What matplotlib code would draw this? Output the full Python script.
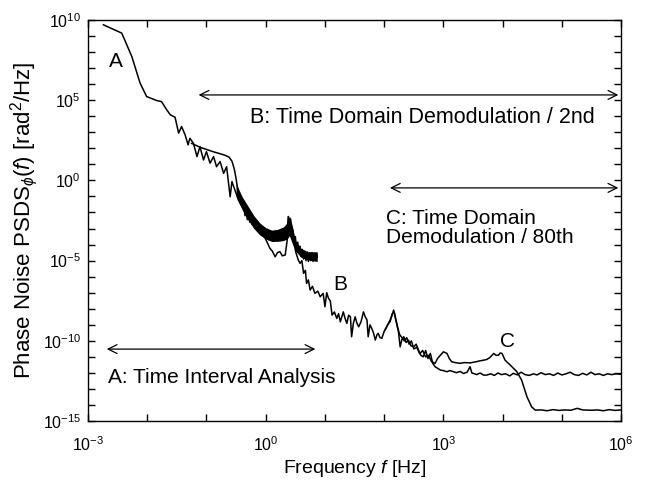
import numpy as np
import matplotlib
matplotlib.use("Agg")
import matplotlib.pyplot as plt
from matplotlib.ticker import FixedLocator, FuncFormatter, NullLocator

plt.rcParams['font.family'] = ['Liberation Sans', 'DejaVu Sans']
plt.rcParams['mathtext.fontset'] = 'custom'
plt.rcParams['mathtext.rm'] = 'Liberation Sans'
plt.rcParams['mathtext.it'] = 'Liberation Sans:italic'

# log10 of frequency [Hz] and log10 of PSD [rad^2/Hz]
a_logf = [-2.74, -2.43, -2.26, -2.12, -2.01, -1.84, -1.76, -1.67, -1.61, -1.53,
          -1.47, -1.42, -1.36, -1.31, -1.28, -1.22, -1.16, -1.11, -1.05, -1.00,
          -0.94, -0.88, -0.83, -0.77, -0.71, -0.66, -0.60, -0.57, -0.52, -0.46,
          -0.40, -0.37, -0.35, -0.33, -0.31, -0.29, -0.27, -0.25, -0.23, -0.21,
          -0.19, -0.17, -0.15, -0.13, -0.11, -0.09, -0.07, -0.05, -0.03, -0.01,
          0.01, 0.03, 0.05, 0.07, 0.09, 0.11, 0.13, 0.15, 0.17, 0.19,
          0.21, 0.23, 0.25, 0.27, 0.29, 0.31, 0.33, 0.35, 0.36, 0.38,
          0.40, 0.42, 0.44, 0.46, 0.48, 0.50, 0.52, 0.54, 0.56, 0.58,
          0.60, 0.62, 0.64, 0.66, 0.68, 0.70, 0.72, 0.74, 0.76, 0.78,
          0.80, 0.82, 0.84, 0.86, 0.87]
a_logs = [9.69, 9.17, 7.71, 6.05, 5.22, 4.97, 4.91, 4.39, 4.08, 3.93,
          2.94, 3.35, 2.83, 2.21, 2.62, 2.31, 1.48, 2.10, 1.27, 1.79,
          1.07, 1.48, 0.85, 1.17, 0.44, 0.85, -1.02, -0.08, -0.60, -1.22,
          -1.64, -1.40, -2.20, -1.75, -2.45, -1.95, -2.60, -2.10, -2.75, -2.30,
          -2.95, -2.45, -3.10, -2.60, -3.25, -2.80, -3.35, -2.90, -3.50, -3.00,
          -3.60, -3.05, -3.70, -3.15, -3.75, -3.20, -3.80, -3.25, -3.75, -3.20,
          -3.70, -3.15, -3.75, -3.10, -3.70, -3.05, -3.60, -2.95, -3.30, -2.25,
          -3.00, -2.40, -3.40, -3.10, -3.90, -3.50, -4.20, -3.85, -4.50, -4.10,
          -4.75, -4.30, -4.90, -4.40, -5.00, -4.45, -5.05, -4.50, -5.00, -4.50,
          -5.05, -4.55, -5.00, -4.60, -4.80]

# envelope of the dense, nearly solid part of trace A
band_logf = [-0.50, -0.40, -0.30, -0.20, -0.10, 0.00, 0.10, 0.20, 0.30, 0.36,
             0.40, 0.45, 0.50, 0.60, 0.70, 0.87]
band_hi = [-0.2, -1.0, -1.6, -2.2, -2.65, -2.95, -3.1, -3.05, -2.9, -2.65,
           -2.2, -2.85, -3.75, -4.25, -4.45, -4.45]
band_lo = [-1.0, -1.8, -2.45, -3.0, -3.4, -3.65, -3.8, -3.8, -3.75, -3.65,
           -3.45, -3.95, -4.4, -4.8, -4.95, -5.05]

b_logf = [-1.25, -1.10, -0.90, -0.70, -0.62, -0.57, -0.53, -0.50, -0.47, -0.44,
          -0.40, -0.35, -0.30, -0.25, -0.20, -0.15, -0.10, -0.05, -0.01, 0.03,
          0.07, 0.11, 0.16, 0.20, 0.24, 0.28, 0.33, 0.36, 0.40, 0.43,
          0.47, 0.51, 0.55, 0.58, 0.61, 0.64, 0.67, 0.69, 0.72, 0.75,
          0.79, 0.83, 0.88, 0.92, 0.97, 1.00, 1.03, 1.06, 1.09, 1.12,
          1.16, 1.20, 1.23, 1.26, 1.31, 1.34, 1.37, 1.40, 1.43, 1.45,
          1.48, 1.51, 1.54, 1.57, 1.61, 1.65, 1.68, 1.71, 1.73, 1.76,
          1.79, 1.82, 1.85, 1.88, 1.90, 1.93, 1.96, 2.00, 2.04, 2.07,
          2.10, 2.13, 2.16, 2.19, 2.21, 2.24, 2.27, 2.30, 2.33, 2.37,
          2.41, 2.45, 2.50, 2.54, 2.58, 2.62, 2.66, 2.70, 2.74, 2.78,
          2.82, 2.86, 2.90, 2.95, 3.00, 3.06, 3.11, 3.17, 3.22, 3.28,
          3.34, 3.40, 3.45, 3.48, 3.51, 3.56, 3.62, 3.68, 3.73, 3.80,
          3.86, 3.92, 3.98, 4.05, 4.12, 4.18, 4.25, 4.31, 4.38, 4.45,
          4.52, 4.58, 4.65, 4.72, 4.79, 4.86, 4.93, 5.00, 5.07, 5.14,
          5.21, 5.28, 5.35, 5.42, 5.49, 5.56, 5.63, 5.70, 5.77, 5.84,
          5.91, 6.00]
b_logs = [2.30, 2.05, 1.80, 1.58, 1.45, 1.20, 0.70, 0.10, -0.60, -1.10,
          -1.60, -2.00, -2.40, -2.30, -2.80, -2.90, -3.30, -3.30, -3.60, -3.90,
          -4.23, -4.40, -4.76, -4.50, -4.44, -4.70, -4.65, -3.80, -2.47, -3.20,
          -3.72, -4.50, -4.96, -5.17, -5.00, -5.79, -5.60, -6.42, -6.20, -6.83,
          -6.60, -7.04, -6.90, -7.25, -7.04, -7.87, -7.00, -7.35, -7.50, -8.39,
          -8.20, -8.60, -8.30, -8.81, -8.19, -8.60, -8.91, -8.40, -8.50, -9.74,
          -8.90, -8.50, -8.90, -9.12, -8.80, -8.19, -8.50, -8.70, -9.74, -9.00,
          -9.22, -9.50, -9.95, -9.60, -9.53, -9.80, -9.84, -9.40, -9.12, -8.90,
          -8.70, -8.40, -8.08, -8.60, -8.91, -9.40, -10.37, -9.90, -9.74, -10.10,
          -9.95, -10.30, -10.37, -10.20, -10.57, -10.90, -10.99, -10.60, -11.10, -10.78,
          -11.40, -11.61, -11.70, -11.82, -11.85, -11.92, -11.85, -11.92, -11.98, -11.90,
          -12.03, -11.95, -11.61, -12.00, -12.03, -12.10, -12.00, -12.13, -12.13, -12.05,
          -12.15, -12.00, -12.10, -12.05, -12.18, -12.02, -12.12, -11.95, -12.10, -12.15,
          -12.05, -12.12, -11.98, -12.10, -12.05, -12.15, -12.00, -12.12, -12.05, -11.95,
          -12.10, -12.15, -12.02, -12.12, -11.95, -12.10, -12.05, -12.15, -12.05, -12.10,
          -12.05, -12.08]

c_logf = [2.02, 2.06, 2.10, 2.14, 2.17, 2.20, 2.23, 2.26, 2.30, 2.34,
          2.38, 2.42, 2.46, 2.50, 2.55, 2.60, 2.65, 2.70, 2.75, 2.80,
          2.86, 2.90, 2.95, 3.00, 3.06, 3.10, 3.14, 3.20, 3.28, 3.35,
          3.45, 3.55, 3.62, 3.68, 3.73, 3.78, 3.85, 3.89, 3.93, 3.96,
          3.99, 4.04, 4.13, 4.24, 4.32, 4.41, 4.49, 4.55, 4.65, 4.75,
          4.85, 4.95, 5.05, 5.15, 5.26, 5.35, 5.50, 5.60, 5.70, 5.80,
          5.90, 6.00]
c_logs = [-9.30, -9.00, -8.80, -8.30, -8.20, -8.70, -9.20, -9.60, -9.80, -10.00,
          -9.80, -10.20, -10.00, -10.50, -10.40, -10.80, -10.60, -11.00, -10.90, -11.30,
          -11.40, -11.10, -10.89, -10.68, -10.78, -11.10, -11.30, -11.35, -11.40, -11.35,
          -11.37, -11.30, -11.24, -11.20, -11.16, -11.05, -10.78, -10.90, -10.89, -10.75,
          -10.78, -11.20, -11.51, -11.92, -12.44, -13.48, -14.11, -14.31, -14.30, -14.35,
          -14.28, -14.33, -14.30, -14.32, -14.20, -14.30, -14.32, -14.30, -14.35, -14.28,
          -14.33, -14.30]

fig = plt.figure(figsize=(6.47, 4.83), dpi=100)
ax = fig.add_axes([0.136, 0.128, 0.824, 0.831])

ax.fill_between(10.0 ** np.array(band_logf), 10.0 ** np.array(band_lo),
                10.0 ** np.array(band_hi), color='black', lw=0)
for lf, ls in [(a_logf, a_logs), (b_logf, b_logs), (c_logf, c_logs)]:
    ax.plot(10.0 ** np.array(lf), 10.0 ** np.array(ls), color='black', lw=1.1)

ax.set_xscale('log')
ax.set_yscale('log')
ax.set_xlim(1e-3, 1e6)
ax.set_ylim(1e-15, 1e10)

def fmt(v, pos):
    return r'$10^{%d}$' % int(round(np.log10(v)))

ax.xaxis.set_major_locator(FixedLocator([10.0 ** k for k in range(-3, 7)]))
ax.yaxis.set_major_locator(FixedLocator([10.0 ** k for k in range(-15, 11)]))
ax.xaxis.set_minor_locator(NullLocator())
ax.yaxis.set_minor_locator(NullLocator())
ax.xaxis.set_major_formatter(FuncFormatter(lambda v, p: fmt(v, p) if round(np.log10(v)) % 3 == 0 else ''))
ax.yaxis.set_major_formatter(FuncFormatter(lambda v, p: fmt(v, p) if round(np.log10(v)) % 5 == 0 else ''))
ax.tick_params(which='both', direction='in', top=True, right=True, length=5,
               width=1, labelsize=11.5)
ax.tick_params(axis='x', pad=10)
ax.tick_params(axis='y', pad=5)
for s in ax.spines.values():
    s.set_linewidth(1.0)

ax.set_xlabel('Frequency $f$ [Hz]', fontsize=14, labelpad=3)
ax.set_ylabel(r'Phase Noise PSDS$_{\phi}$($f$) [rad$^2$/Hz]', fontsize=16, labelpad=2)

arrow = dict(arrowstyle='<->', color='black', lw=0.9, mutation_scale=16)
ax.annotate('', xy=(10 ** -1.18, 10 ** 5.32), xytext=(1e6, 10 ** 5.32), arrowprops=arrow)
ax.annotate('', xy=(10 ** 2.05, 10 ** -0.47), xytext=(1e6, 10 ** -0.47), arrowprops=arrow)
ax.annotate('', xy=(10 ** -2.73, 10 ** -10.51), xytext=(10 ** 0.885, 10 ** -10.51), arrowprops=arrow)

ax.text(10 ** -0.27, 10 ** 3.9, 'B: Time Domain Demodulation / 2nd', fontsize=15.5, va='center')
ax.text(10 ** 2.03, 10 ** -2.97, 'C: Time Domain\nDemodulation / 80th', fontsize=15,
        va='center', linespacing=1.05)
ax.text(10 ** -2.66, 10 ** -12.3, 'A: Time Interval Analysis', fontsize=15, va='center')
ax.text(10 ** -2.53, 10 ** 7.38, 'A', fontsize=15, ha='center', va='center')
ax.text(10 ** 1.26, 10 ** -6.46, 'B', fontsize=15, ha='center', va='center')
ax.text(10 ** 4.09, 10 ** -10.01, 'C', fontsize=15, ha='center', va='center')

fig.savefig('out.png', dpi=100)
